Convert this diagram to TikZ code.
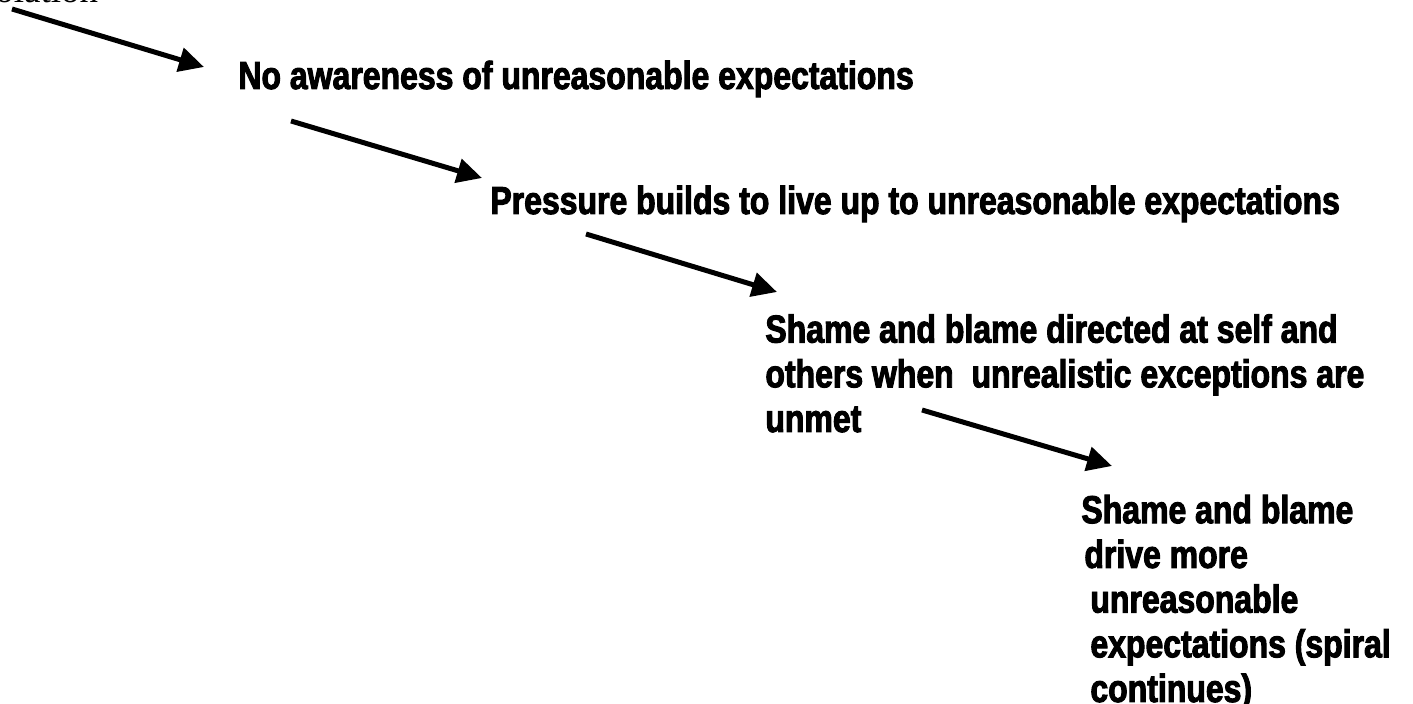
\documentclass[tikz,border=0pt]{standalone}
\usepackage{fontspec}
\setmainfont{Liberation Serif}
\newfontfamily\shoutfont{Liberation Sans}[UprightFont=* Bold, FakeStretch=0.82, FakeBold=2.5]
\usetikzlibrary{arrows.meta}

\begin{document}
\begin{tikzpicture}[x=0.5pt, y=-0.5pt,
    steptext/.style={anchor=base west, inner sep=0pt, align=left,
        font=\shoutfont\fontsize{19.5}{22.35}\selectfont},
    steparrow/.style={line width=2.5pt, -{Triangle[length=12.5pt, width=12pt]}}]
        \useasboundingbox (0,0) rectangle (1413,704);

        % Text cut off at the top
        \node[anchor=base west, inner sep=0pt, font=\fontsize{18.5}{22}\selectfont] (top) at (-5,3) {olation};

        % The spiral steps (multi-line nodes sit on their last line)
        \node[steptext] (aware) at (238,89) {No awareness of unreasonable expectations};
        \node[steptext] (pressure) at (490,214) {Pressure builds to live up to unreasonable expectations};
        \node[steptext] (shame) at (765,432) {Shame and blame directed at self and\\
            others when\ \ unrealistic exceptions are\\ unmet};
        \node[steptext] (spiral) at (1081,702) {Shame and blame\\
            \hspace*{1.5pt}drive more\\ \hspace*{4.5pt}unreasonable\\
            \hspace*{4.5pt}expectations (spiral\\ \hspace*{4.5pt}continues)};

        % Arrow end points
        \coordinate (a1) at (12,9);    \coordinate (b1) at (204,67);
        \coordinate (a2) at (291,121); \coordinate (b2) at (482,178);
        \coordinate (a3) at (586,234); \coordinate (b3) at (777,292);
        \coordinate (a4) at (922,410); \coordinate (b4) at (1112,466);

        % Arrows
        \draw[steparrow] (a1) -- (b1);
        \draw[steparrow] (a2) -- (b2);
        \draw[steparrow] (a3) -- (b3);
        \draw[steparrow] (a4) -- (b4);
    \end{tikzpicture}
\end{document}
